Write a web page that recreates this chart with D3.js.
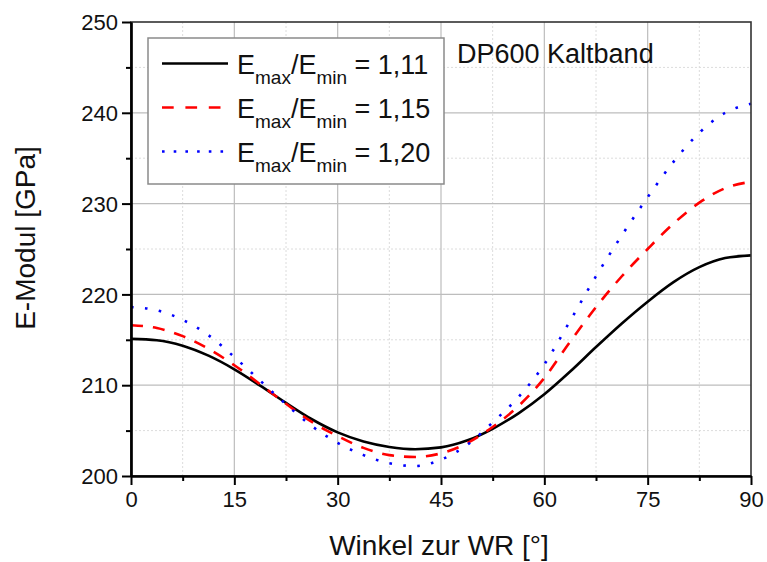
<!DOCTYPE html>
<html>
<head>
<meta charset="utf-8">
<script src="https://cdn.jsdelivr.net/npm/d3@7/dist/d3.min.js"></script>
<style>
  html, body { margin: 0; padding: 0; background: #fff; }
  svg { display: block; font-family: "Liberation Sans", Arial, sans-serif; }
</style>
</head>
<body>
<svg id="chart" width="767" height="562"></svg>
<script>
// Angle to rolling direction (degrees)
const angles = [0, 3.75, 7.5, 11.25, 15, 18.75, 22.5, 26.25, 30, 33.75, 37.5, 41.25, 45,
                48.75, 52.5, 56.25, 60, 63.75, 67.5, 71.25, 75, 78.75, 82.5, 86.25, 90];

// Young's modulus [GPa] for each anisotropy ratio
const eRatio111 = [215.1, 214.95, 214.35, 213.25, 211.75, 209.95, 208.05, 206.25, 204.8, 203.8, 203.2, 202.95, 203.15,
                   203.9, 205.2, 206.9, 209.0, 211.5, 214.2, 216.8, 219.2, 221.35, 223.0, 224.0, 224.3];
const eRatio115 = [216.6, 216.3, 215.4, 214.0, 212.2, 210.1, 207.95, 205.95, 204.4, 203.1, 202.3, 202.1, 202.5,
                   203.6, 205.4, 207.7, 210.8, 214.8, 218.6, 222.0, 225.0, 227.8, 230.1, 231.7, 232.4];
const eRatio120 = [218.6, 218.25, 217.2, 215.5, 213.1, 210.5, 207.9, 205.5, 203.65, 202.3, 201.4, 201.1, 201.8,
                   203.4, 205.9, 208.7, 212.3, 217.1, 222.0, 226.5, 230.7, 234.6, 237.8, 240.0, 241.0];

const seriesRatios = ["1,11", "1,15", "1,20"];

const xTicks = [0, 15, 30, 45, 60, 75, 90];
const xMinorTicks = [7.5, 22.5, 37.5, 52.5, 67.5, 82.5];
const yTicks = [200, 210, 220, 230, 240, 250];
const yMinorTicks = [205, 215, 225, 235, 245];

const annotation = "DP600 Kaltband";
const xTitle = "Winkel zur WR [°]";
const yTitle = "E-Modul [GPa]";

const series = [
  { ratio: seriesRatios[0], values: eRatio111, color: "#000000", dash: null, legendDash: null },
  { ratio: seriesRatios[1], values: eRatio115, color: "#ff0000", dash: "12,10", legendDash: "11.7,11.7" },
  { ratio: seriesRatios[2], values: eRatio120, color: "#0000ff", dash: "2.6,11.4", legendDash: "2.6,9.1" }
];

const svg = d3.select("#chart");
const plot = { left: 131, right: 751, top: 22, bottom: 476 };

const x = d3.scaleLinear().domain([0, 90]).range([plot.left, plot.right]);
const y = d3.scaleLinear().domain([200, 250]).range([plot.bottom, plot.top]);

// Grid: minor dashed, major solid
const grid = svg.append("g");
grid.selectAll(".gxm").data(xMinorTicks).join("line")
  .attr("x1", d => x(d)).attr("x2", d => x(d)).attr("y1", plot.top).attr("y2", plot.bottom)
  .attr("stroke", "#dcdcdc").attr("stroke-width", 1).attr("stroke-dasharray", "2,2");
grid.selectAll(".gym").data(yMinorTicks).join("line")
  .attr("x1", plot.left).attr("x2", plot.right).attr("y1", d => y(d)).attr("y2", d => y(d))
  .attr("stroke", "#dcdcdc").attr("stroke-width", 1).attr("stroke-dasharray", "2,2");
grid.selectAll(".gx").data(xTicks.slice(1, -1)).join("line")
  .attr("x1", d => x(d)).attr("x2", d => x(d)).attr("y1", plot.top).attr("y2", plot.bottom)
  .attr("stroke", "#bdbdbd").attr("stroke-width", 1.2);
grid.selectAll(".gy").data(yTicks.slice(1, -1)).join("line")
  .attr("x1", plot.left).attr("x2", plot.right).attr("y1", d => y(d)).attr("y2", d => y(d))
  .attr("stroke", "#bdbdbd").attr("stroke-width", 1.2);

// Curves
const line = d3.line()
  .x((d, i) => x(angles[i]))
  .y(d => y(d))
  .curve(d3.curveMonotoneX);

svg.append("g").selectAll("path").data(series).join("path")
  .attr("d", d => line(d.values))
  .attr("fill", "none")
  .attr("stroke", d => d.color)
  .attr("stroke-width", 2.6)
  .attr("stroke-dasharray", d => d.dash);

// Frame (top/right)
svg.append("rect")
  .attr("x", plot.left).attr("y", plot.top)
  .attr("width", plot.right - plot.left).attr("height", plot.bottom - plot.top)
  .attr("fill", "none").attr("stroke", "#333").attr("stroke-width", 1.6);

// Axes
const xAxis = svg.append("g").attr("transform", `translate(0,${plot.bottom})`)
  .call(d3.axisBottom(x).tickValues(xTicks).tickSize(9).tickSizeOuter(0).tickPadding(6).tickFormat(d3.format("d")));
const xAxisMinor = svg.append("g").attr("transform", `translate(0,${plot.bottom})`)
  .call(d3.axisBottom(x).tickValues(xMinorTicks).tickSize(5).tickSizeOuter(0).tickFormat(""));
const yAxis = svg.append("g").attr("transform", `translate(${plot.left},0)`)
  .call(d3.axisLeft(y).tickValues(yTicks).tickSize(9).tickSizeOuter(0).tickPadding(5).tickFormat(d3.format("d")));
const yAxisMinor = svg.append("g").attr("transform", `translate(${plot.left},0)`)
  .call(d3.axisLeft(y).tickValues(yMinorTicks).tickSize(5).tickSizeOuter(0).tickFormat(""));

[xAxis, xAxisMinor, yAxis, yAxisMinor].forEach(g => {
  g.select(".domain").attr("stroke", "#000").attr("stroke-width", 2.2);
  g.selectAll(".tick line").attr("stroke", "#000").attr("stroke-width", 2);
  g.selectAll(".tick text").attr("fill", "#111").style("font-size", "22px")
    .style("font-family", "'Liberation Sans', Arial, sans-serif");
});
xAxis.selectAll(".tick text").attr("dy", "0.71em").attr("y", 15);
yAxis.selectAll(".tick text").attr("x", -13).attr("dy", "0.35em");

// Axis titles
svg.append("text")
  .attr("x", (plot.left + plot.right) / 2 - 2).attr("y", 555)
  .attr("text-anchor", "middle").style("font-size", "28px").attr("fill", "#111")
  .text(xTitle);
svg.append("text")
  .attr("transform", `translate(35,${(143 + 333) / 2}) rotate(-90)`)
  .attr("text-anchor", "middle").style("font-size", "28px").attr("fill", "#111")
  .text(yTitle);

// Annotation
svg.append("text")
  .attr("x", 457).attr("y", 63).style("font-size", "27px").attr("fill", "#111")
  .text(annotation);

// Legend
const legend = svg.append("g");
legend.append("rect")
  .attr("x", 148).attr("y", 38).attr("width", 296).attr("height", 146)
  .attr("fill", "#fff").attr("stroke", "#8a8a8a").attr("stroke-width", 1.5);

const rows = legend.selectAll(".row").data(series).join("g")
  .attr("transform", (d, i) => `translate(0,${63.5 + i * 44})`);
rows.append("line")
  .attr("x1", 162).attr("x2", 228).attr("y1", 0).attr("y2", 0)
  .attr("stroke", d => d.color).attr("stroke-width", 2.6)
  .attr("stroke-dasharray", d => d.legendDash);
const label = rows.append("text")
  .attr("x", 237).attr("y", 10).style("font-size", "27px").attr("fill", "#111");
label.append("tspan").text("E");
label.append("tspan").attr("dy", 10).style("font-size", "19px").text("max");
label.append("tspan").attr("dy", -10).text("/E");
label.append("tspan").attr("dy", 10).style("font-size", "19px").text("min");
label.append("tspan").attr("dy", -10).text(d => " = " + d.ratio);
</script>
</body>
</html>
